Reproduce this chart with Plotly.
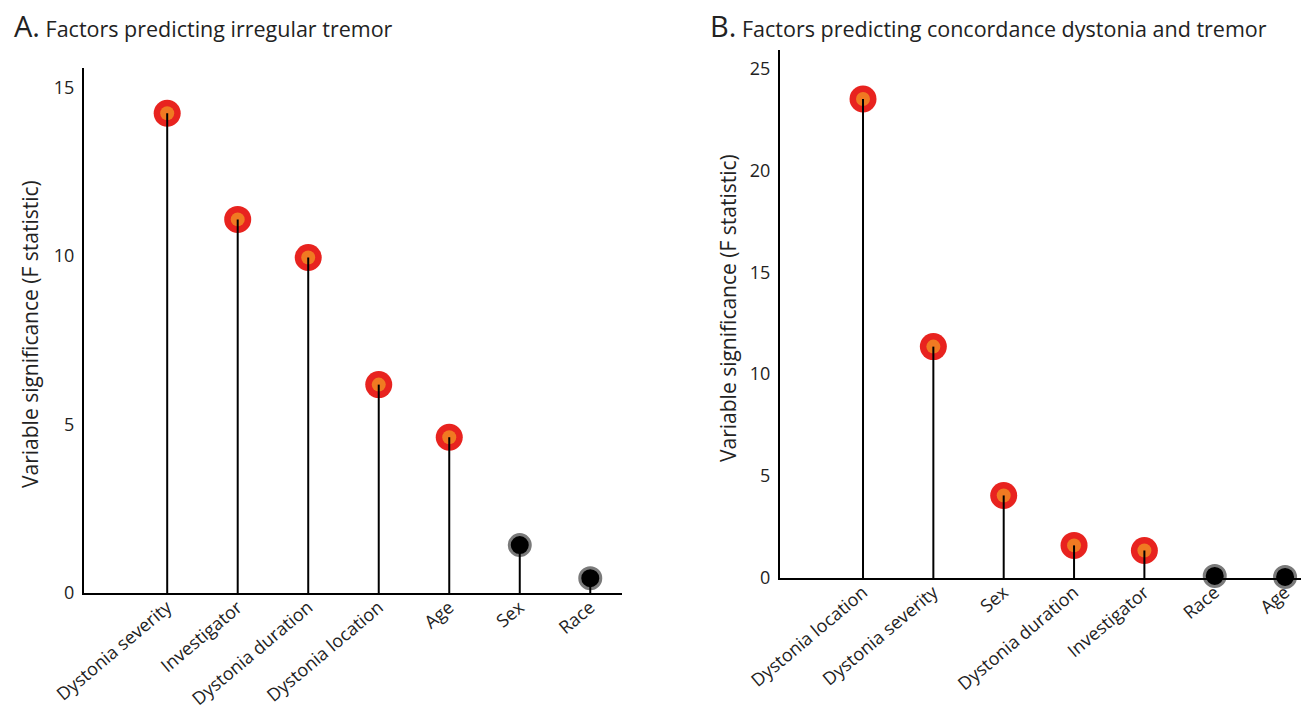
import plotly.graph_objects as go

# ---- data ----
cats_a = ["Dystonia severity", "Investigator", "Dystonia duration", "Dystonia location", "Age", "Sex", "Race"]
vals_a = [14.23, 11.08, 9.95, 6.18, 4.62, 1.42, 0.44]
sig_a = [True, True, True, True, True, False, False]

cats_b = ["Dystonia location", "Dystonia severity", "Sex", "Dystonia duration", "Investigator", "Race", "Age"]
vals_b = [23.5, 11.35, 4.05, 1.6, 1.35, 0.1, 0.05]
sig_b = [True, True, True, True, True, False, False]

ticks_a = [0, 5, 10, 15]
ticks_b = [0, 5, 10, 15, 20, 25]

OFF = 8  # page body margin
W, H = 1309 - OFF, 707 - OFF
FONT = "Open Sans"


def px(x):
    return (x - OFF) / W


def py(y):
    return 1 - (y - OFF) / H


fig = go.Figure()


def add_panel(cats, vals, sig, xa, ya):
    xs = list(range(len(cats)))
    sx = [x for x, s in zip(xs, sig) if s]
    sy = [v for v, s in zip(vals, sig) if s]
    nx = [x for x, s in zip(xs, sig) if not s]
    ny = [v for v, s in zip(vals, sig) if not s]
    fig.add_trace(go.Scatter(x=sx, y=sy, mode="markers", xaxis=xa, yaxis=ya,
                             marker=dict(size=27, color="#e8231f", line=dict(width=0)),
                             hoverinfo="skip", showlegend=False, cliponaxis=False))
    fig.add_trace(go.Scatter(x=sx, y=sy, mode="markers", xaxis=xa, yaxis=ya,
                             marker=dict(size=14, color="#f07a22", line=dict(width=0)),
                             hoverinfo="skip", showlegend=False, cliponaxis=False))
    fig.add_trace(go.Scatter(x=nx, y=ny, mode="markers", xaxis=xa, yaxis=ya,
                             marker=dict(size=21, color="#000000", line=dict(width=3, color="#7a7a7a")),
                             hoverinfo="skip", showlegend=False, cliponaxis=False))
    lx, ly = [], []
    for x, v in zip(xs, vals):
        lx += [x, x, None]
        ly += [0, v, None]
    fig.add_trace(go.Scatter(x=lx, y=ly, mode="lines", xaxis=xa, yaxis=ya,
                             line=dict(color="#000000", width=2),
                             hoverinfo="skip", showlegend=False, cliponaxis=False))


add_panel(cats_a, vals_a, sig_a, "x", "y")
add_panel(cats_b, vals_b, sig_b, "x2", "y2")

axis_common = dict(showline=True, linecolor="#000000", linewidth=2, showgrid=False,
                   zeroline=False, ticks="", automargin=False)
yfont = dict(family=FONT, size=18, color="#222222")
xfont = dict(family=FONT, size=18, color="#222222")

fig.update_layout(
    width=W, height=H,
    margin=dict(l=0, r=0, t=0, b=0),
    paper_bgcolor="white", plot_bgcolor="white",
    font=dict(family=FONT, color="#222222"),
    xaxis=dict(domain=[px(84), px(622)], range=[-1.18, 6.45], anchor="y",
               tickmode="array", tickvals=list(range(len(cats_a))), ticktext=cats_a,
               tickangle=-40, ticklabelstandoff=-5, tickfont=xfont, **axis_common),
    yaxis=dict(domain=[py(593), py(68)], range=[0, 15.57], anchor="x",
               tickmode="array", tickvals=ticks_a, ticklabelstandoff=4, tickfont=yfont, **axis_common),
    xaxis2=dict(domain=[px(780), 1.0], range=[-1.18, 6.34], anchor="y2",
                tickmode="array", tickvals=list(range(len(cats_b))), ticktext=cats_b,
                tickangle=-40, ticklabelstandoff=-5, tickfont=xfont, **axis_common),
    yaxis2=dict(domain=[py(578), py(50)], range=[0, 25.9], anchor="x2",
                tickmode="array", tickvals=ticks_b, ticklabelstandoff=4, tickfont=yfont, **axis_common),
)

annotations = [
    dict(text="<span style='font-size:29px'>A.</span> Factors predicting irregular tremor",
         x=px(12), y=py(4), xref="paper", yref="paper", xanchor="left", yanchor="top",
         showarrow=False, font=dict(family=FONT, size=21.5, color="#222222")),
    dict(text="<span style='font-size:29px'>B.</span> Factors predicting concordance dystonia and tremor",
         x=px(708), y=py(4), xref="paper", yref="paper", xanchor="left", yanchor="top",
         showarrow=False, font=dict(family=FONT, size=21.5, color="#222222")),
    dict(text="Variable significance (F statistic)", textangle=-90,
         x=px(30), y=py(334), xref="paper", yref="paper", xanchor="center", yanchor="middle",
         showarrow=False, font=dict(family=FONT, size=21, color="#222222")),
    dict(text="Variable significance (F statistic)", textangle=-90,
         x=px(728), y=py(308), xref="paper", yref="paper", xanchor="center", yanchor="middle",
         showarrow=False, font=dict(family=FONT, size=21, color="#222222")),
]
fig.update_layout(annotations=annotations)

fig.write_html("out.html")
